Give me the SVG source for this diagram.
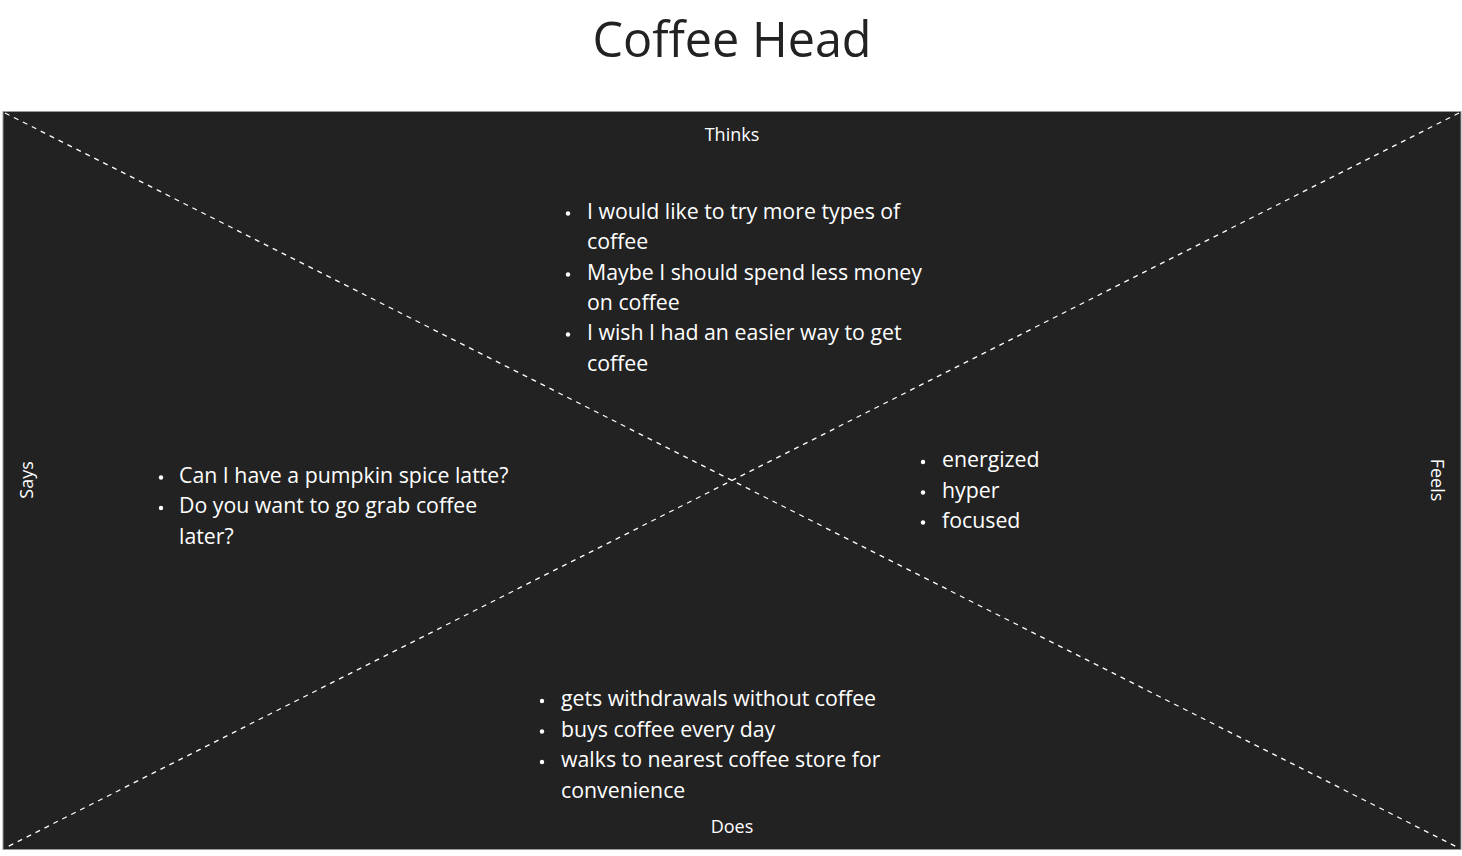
<svg xmlns="http://www.w3.org/2000/svg" width="1462" height="856" viewBox="0 0 1462 856">
  <style>
    .title { font-family: "Open Sans", "Liberation Sans", sans-serif; font-size: 48.5px; fill: #222222; }
    .label { font-family: "Open Sans", "Liberation Sans", sans-serif; font-size: 18px; fill: #ffffff; }
    .item { font-family: "Open Sans", "Liberation Sans", sans-serif; font-size: 21.3px; fill: #ffffff; }
    .dot { fill: #ffffff; }
    .diag { stroke: #ffffff; stroke-width: 1.3; stroke-dasharray: 5 5; fill: none; }
  </style>
  <rect x="0" y="0" width="1462" height="856" fill="#ffffff"/>
  <text class="title" x="732" y="57" text-anchor="middle">Coffee Head</text>

  <g id="canvas">
    <rect x="3" y="111.5" width="1458" height="738" fill="#222222" stroke="#9a9a9a" stroke-width="1"/>
  </g>

  <g id="connectors">
    <line class="diag" x1="5" y1="113" x2="1459" y2="848"/>
    <line class="diag" x1="1459" y1="113" x2="5" y2="848"/>
  </g>

  <g id="thinks">
    <text class="label" x="732" y="141" text-anchor="middle">Thinks</text>
    <circle class="dot" cx="568" cy="213.5" r="2.2"/>
    <circle class="dot" cx="568" cy="274.5" r="2.2"/>
    <circle class="dot" cx="568" cy="334.5" r="2.2"/>
    <text class="item" x="587" y="218.5">I would like to try more types of</text>
    <text class="item" x="587" y="249">coffee</text>
    <text class="item" x="587" y="279.5">Maybe I should spend less money</text>
    <text class="item" x="587" y="309.5">on coffee</text>
    <text class="item" x="587" y="340">I wish I had an easier way to get</text>
    <text class="item" x="587" y="370.5">coffee</text>
  </g>

  <g id="says">
    <text class="label" transform="translate(33,480) rotate(-90)" text-anchor="middle">Says</text>
    <circle class="dot" cx="161" cy="477.5" r="2.2"/>
    <circle class="dot" cx="161" cy="508" r="2.2"/>
    <text class="item" x="179" y="482.5">Can I have a pumpkin spice latte?</text>
    <text class="item" x="179" y="513">Do you want to go grab coffee</text>
    <text class="item" x="179" y="543.5">later?</text>
  </g>

  <g id="feels">
    <text class="label" transform="translate(1431,480) rotate(90)" text-anchor="middle">Feels</text>
    <circle class="dot" cx="923" cy="462" r="2.2"/>
    <circle class="dot" cx="923" cy="492.5" r="2.2"/>
    <circle class="dot" cx="923" cy="522.5" r="2.2"/>
    <text class="item" x="942" y="467">energized</text>
    <text class="item" x="942" y="497.5">hyper</text>
    <text class="item" x="942" y="527.5">focused</text>
  </g>

  <g id="does">
    <circle class="dot" cx="542" cy="701" r="2.2"/>
    <circle class="dot" cx="542" cy="731.5" r="2.2"/>
    <circle class="dot" cx="542" cy="762" r="2.2"/>
    <text class="item" x="561" y="706">gets withdrawals without coffee</text>
    <text class="item" x="561" y="736.5">buys coffee every day</text>
    <text class="item" x="561" y="767">walks to nearest coffee store for</text>
    <text class="item" x="561" y="797.5">convenience</text>
    <text class="label" x="732" y="833" text-anchor="middle">Does</text>
  </g>
</svg>
